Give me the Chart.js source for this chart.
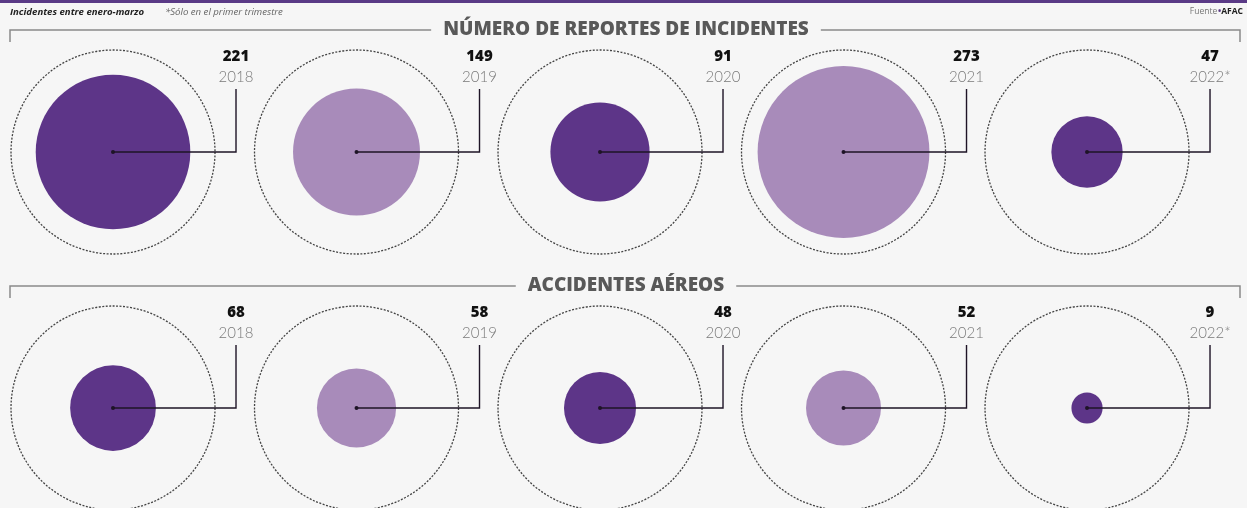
<!DOCTYPE html>
<html>
<head>
<meta charset="utf-8">
<script src="https://cdn.jsdelivr.net/npm/chart.js@4.4.1/dist/chart.umd.min.js"></script>
<style>
  html, body { margin: 0; padding: 0; background: #f6f6f6; }
  canvas { display: block; }
</style>
</head>
<body>
<canvas id="bubbles" width="1247" height="508"></canvas>
<script>
// data
const years = ['2018', '2019', '2020', '2021', '2022*'];
const incidentes = [221, 149, 91, 273, 47];
const accidentes = [68, 58, 48, 52, 9];
const sections = ['NÚMERO DE REPORTES DE INCIDENTES', 'ACCIDENTES AÉREOS'];

const DARK = '#5d3588';
const LIGHT = '#a88bba';
const K = 5.2;      // pixels per sqrt(value), area-proportional circles
const RING = 102;   // dotted guide ring

function toBubbles(vals, row) {
    return vals.map((v, i) => ({ x: i, y: row, r: K * Math.sqrt(v), v: v, year: years[i] }));
}
const shades = years.map((y, i) => i % 2 === 0 ? DARK : LIGHT);

const rings = years.map((y, i) => ({ x: i, y: 1, r: RING }))
    .concat(years.map((y, i) => ({ x: i, y: 0, r: RING })));

const decor = {
    id: 'decor',
    beforeDraw(chart) {
        const ctx = chart.ctx;
        ctx.save();
        ctx.fillStyle = '#f6f6f6';
        ctx.fillRect(0, 0, chart.width, chart.height);
        ctx.fillStyle = '#5a3a86';
        ctx.fillRect(0, 0, chart.width, 3);

        ctx.textBaseline = 'middle';
        ctx.textAlign = 'left';
        ctx.fillStyle = '#222';
        ctx.font = 'italic bold 9.6px "Open Sans"';
        ctx.fillText('Incidentes entre enero-marzo', 10, 12);
        ctx.fillStyle = '#666';
        ctx.font = 'italic 9.6px "Open Sans"';
        ctx.fillText('*Sólo en el primer trimestre', 165, 12);

        ctx.textAlign = 'right';
        ctx.font = 'bold 8.5px "Open Sans"';
        const w = ctx.measureText('AFAC').width;
        ctx.fillStyle = '#222';
        ctx.fillText('AFAC', 1243, 12);
        ctx.fillStyle = '#5a3a86';
        ctx.fillText('•', 1243 - w, 12);
        ctx.fillStyle = '#777';
        ctx.font = '8.5px "Open Sans"';
        ctx.fillText('Fuente', 1243 - w - 4, 12);

        // section headers
        const ys = chart.scales.y;
        [1, 0].forEach((row, k) => {
            const hy = ys.getPixelForValue(row) - 122;
            ctx.font = '800 19px "Open Sans"';
            const tw = ctx.measureText(sections[k]).width;
            const cx = 626;
            ctx.strokeStyle = '#8a8a8a';
            ctx.lineWidth = 1.5;
            ctx.beginPath();
            ctx.moveTo(10, hy + 12);
            ctx.lineTo(10, hy);
            ctx.lineTo(cx - tw / 2 - 12, hy);
            ctx.moveTo(cx + tw / 2 + 12, hy);
            ctx.lineTo(1240, hy);
            ctx.lineTo(1240, hy + 12);
            ctx.stroke();
            ctx.fillStyle = '#595959';
            ctx.textAlign = 'center';
            ctx.fillText(sections[k], cx, hy);
        });
        ctx.restore();
    },
    beforeDatasetDraw(chart, args) {
        if (args.index === 0) chart.ctx.setLineDash([2, 1.5]);
    },
    afterDatasetDraw(chart, args) {
        if (args.index === 0) chart.ctx.setLineDash([]);
    },
    afterDatasetsDraw(chart) {
        const ctx = chart.ctx;
        ctx.save();
        [1, 2].forEach(di => {
            const meta = chart.getDatasetMeta(di);
            const data = chart.data.datasets[di].data;
            meta.data.forEach((el, i) => {
                const cx = el.x, cy = el.y, lx = cx + 123;
                ctx.strokeStyle = '#1e1426';
                ctx.lineWidth = 1.4;
                ctx.beginPath();
                ctx.moveTo(cx, cy);
                ctx.lineTo(lx, cy);
                ctx.lineTo(lx, cy - 63);
                ctx.stroke();
                ctx.fillStyle = '#1e1426';
                ctx.beginPath();
                ctx.arc(cx, cy, 2, 0, Math.PI * 2);
                ctx.fill();

                ctx.textAlign = 'center';
                ctx.textBaseline = 'middle';
                ctx.fillStyle = '#111';
                ctx.font = '800 15px "Open Sans"';
                ctx.fillText(String(data[i].v), lx, cy - 95);
                ctx.fillStyle = '#7a7a7a';
                ctx.font = '300 15px Lato';
                ctx.fillText(data[i].year, lx, cy - 75);
            });
        });
        ctx.restore();
    }
};

new Chart(document.getElementById('bubbles'), {
    type: 'bubble',
    data: {
        datasets: [
            {
                label: 'ring',
                data: rings,
                backgroundColor: 'rgba(0,0,0,0)',
                borderColor: '#444',
                borderWidth: 1.3,
                clip: false
            },
            {
                label: 'Número de reportes de incidentes',
                data: toBubbles(incidentes, 1),
                backgroundColor: shades,
                borderWidth: 0,
                clip: false
            },
            {
                label: 'Accidentes aéreos',
                data: toBubbles(accidentes, 0),
                backgroundColor: shades,
                borderWidth: 0,
                clip: false
            }
        ]
    },
    options: {
        responsive: false,
        animation: false,
        events: [],
        layout: { padding: 0, autoPadding: false },
        plugins: {
            legend: { display: false },
            tooltip: { enabled: false }
        },
        scales: {
            x: { type: 'linear', display: false, min: -0.4641, max: 4.657 },
            y: { type: 'linear', display: false, min: -0.3906, max: 1.5938 }
        }
    },
    plugins: [decor]
});
</script>
</body>
</html>
